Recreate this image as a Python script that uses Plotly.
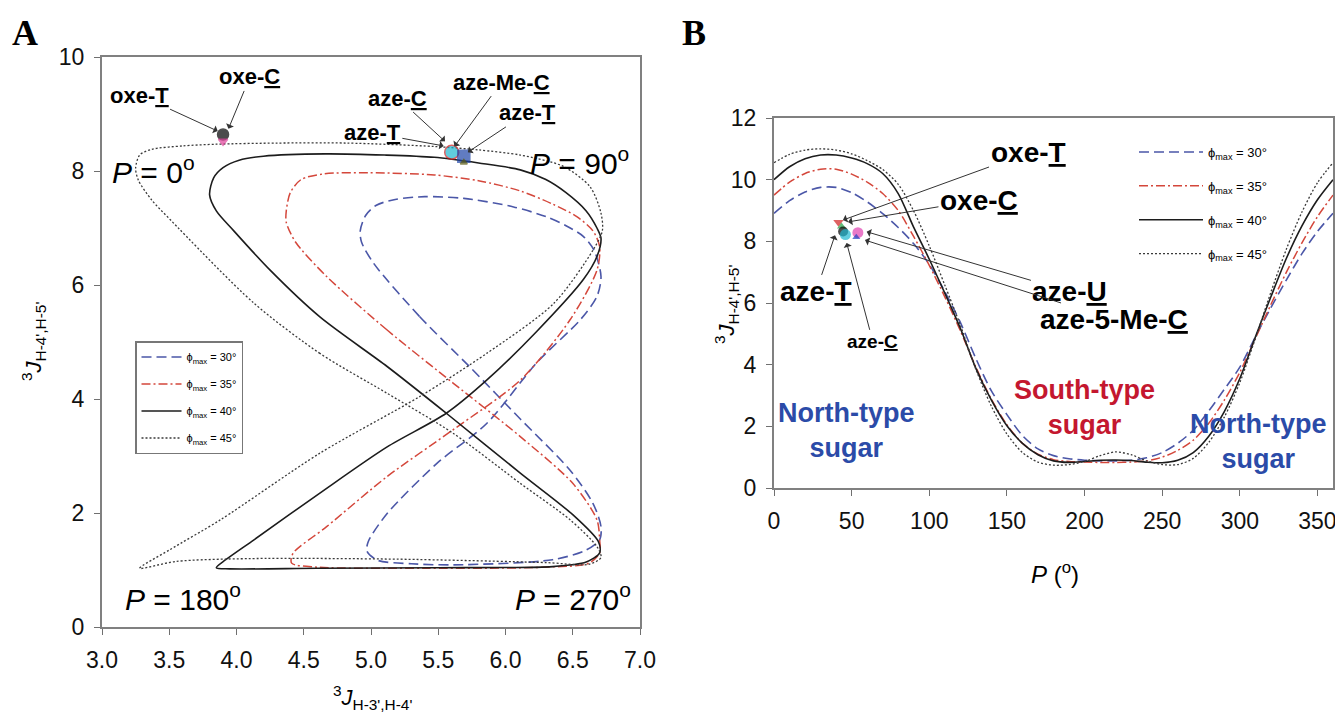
import plotly.graph_objects as go

# ---------------- Panel B data: 3J(H-4',H-5') vs P ----------------
P_DEG = [0, 10, 20, 30, 40, 50, 60, 70, 80, 90, 100, 110, 120, 130, 140, 150, 160, 170, 180,
         190, 200, 210, 220, 230, 240, 250, 260, 270, 280, 290, 300, 310, 320, 330, 340, 350, 360]
B_J_PHI30 = [8.91, 9.32, 9.60, 9.75, 9.75, 9.58, 9.28, 8.90, 8.45, 7.92, 7.25, 6.37, 5.37, 4.20,
             3.15, 2.38, 1.70, 1.27, 1.05, 0.95, 0.90, 0.88, 0.88, 0.90, 0.98, 1.15, 1.45, 1.87,
             2.50, 3.20, 3.92, 4.90, 5.85, 6.75, 7.60, 8.32, 8.91]
B_J_PHI35 = [9.50, 9.92, 10.20, 10.34, 10.34, 10.18, 9.92, 9.55, 9.00, 8.15, 7.22, 6.20, 5.10,
             3.92, 2.88, 2.05, 1.45, 1.10, 0.92, 0.86, 0.84, 0.83, 0.83, 0.84, 0.88, 1.00, 1.22,
             1.55, 2.10, 2.85, 3.75, 4.85, 5.95, 7.00, 7.95, 8.80, 9.50]
B_J_PHI40 = [10.00, 10.42, 10.68, 10.80, 10.80, 10.70, 10.52, 10.20, 9.55, 8.45, 7.42, 6.32, 5.18,
             3.88, 2.85, 2.02, 1.45, 1.08, 0.88, 0.83, 0.86, 0.90, 0.91, 0.89, 0.84, 0.82, 0.90,
             1.15, 1.68, 2.48, 3.55, 4.90, 6.20, 7.45, 8.50, 9.35, 10.00]
B_J_PHI45 = [10.55, 10.82, 10.96, 11.00, 10.96, 10.84, 10.62, 10.33, 9.85, 8.98, 7.85, 6.58, 5.28,
             3.85, 2.65, 1.75, 1.15, 0.84, 0.74, 0.76, 0.86, 1.05, 1.17, 1.08, 0.88, 0.76, 0.76,
             0.96, 1.48, 2.30, 3.42, 4.85, 6.35, 7.75, 8.95, 9.90, 10.55]

# ---------------- Panel A data: 3J(H-3',H-4') vs 3J(H-4',H-5') (closed loops) ----------------
A30_J34 = [5.74, 5.36, 5.02, 4.93, 4.92, 4.96, 5.04, 5.18, 5.40, 5.69, 6.06, 6.30, 6.45, 6.58,
           6.66, 6.71, 6.68, 6.56, 6.23, 5.86, 5.49, 5.12, 4.98, 4.97, 5.05, 5.30, 5.61, 6.35,
           6.60, 6.70, 6.71, 6.65, 6.48, 6.11, 5.74]
A30_J45 = [4.55, 5.45, 6.38, 6.75, 6.95, 7.22, 7.40, 7.50, 7.55, 7.52, 7.37, 7.20, 7.04, 6.85,
           6.60, 6.15, 5.80, 5.40, 4.63, 3.57, 2.87, 1.99, 1.50, 1.33, 1.17, 1.11, 1.09, 1.18,
           1.35, 1.53, 1.76, 2.17, 2.75, 3.65, 4.55]
A35_J34 = [5.61, 5.12, 4.67, 4.44, 4.37, 4.37, 4.40, 4.48, 4.65, 4.98, 5.47, 5.80, 6.11, 6.35,
           6.53, 6.65, 6.70, 6.68, 6.48, 6.11, 5.61, 5.12, 4.67, 4.42, 4.41, 4.60, 5.40, 6.30,
           6.62, 6.70, 6.70, 6.68, 6.50, 6.11, 5.61]
A35_J45 = [4.28, 5.21, 6.15, 6.75, 7.10, 7.30, 7.62, 7.85, 7.95, 7.97, 7.93, 7.83, 7.65, 7.42,
           7.20, 6.95, 6.67, 6.26, 5.39, 4.33, 3.46, 2.64, 1.76, 1.29, 1.12, 1.05, 1.03, 1.05,
           1.12, 1.30, 1.53, 1.88, 2.52, 3.34, 4.28]
A40_J34 = [5.56, 5.12, 4.62, 4.25, 3.98, 3.85, 3.80, 3.83, 3.90, 4.02, 4.20, 4.66, 5.10, 5.47,
           5.80, 6.11, 6.30, 6.45, 6.60, 6.68, 6.71, 6.68, 6.58, 6.23, 5.86, 5.56, 5.12, 4.62,
           4.13, 3.92, 3.85, 3.95, 4.60, 5.50, 6.35, 6.60, 6.70, 6.69, 6.50, 6.11, 5.56]
A40_J45 = [3.75, 4.57, 5.44, 6.26, 6.95, 7.30, 7.58, 7.88, 8.06, 8.19, 8.26, 8.30, 8.28, 8.24,
           8.14, 8.02, 7.85, 7.62, 7.30, 7.00, 6.82, 6.50, 6.10, 5.18, 4.33, 3.75, 3.16, 2.35,
           1.53, 1.18, 1.04, 1.02, 1.03, 1.04, 1.06, 1.14, 1.30, 1.50, 1.97, 2.70, 3.75]
A45_J34 = [5.12, 4.62, 4.13, 3.51, 3.37, 3.27, 3.25, 3.28, 3.37, 3.60, 3.85, 4.30, 4.82, 5.47,
           5.80, 6.11, 6.43, 6.63, 6.71, 6.72, 6.65, 6.36, 5.86, 5.36, 4.62, 3.88, 3.50, 3.28,
           3.55, 4.10, 5.20, 6.30, 6.62, 6.71, 6.68, 6.48, 6.11, 5.61, 5.12]
A45_J45 = [4.10, 4.80, 5.68, 7.14, 7.49, 7.84, 8.05, 8.28, 8.38, 8.44, 8.47, 8.49, 8.49, 8.43,
           8.37, 8.28, 8.08, 7.72, 7.26, 6.95, 6.61, 5.68, 4.80, 4.04, 3.05, 1.88, 1.35, 1.03,
           1.15, 1.20, 1.19, 1.13, 1.10, 1.22, 1.41, 1.88, 2.52, 3.40, 4.10]

PHI_MAX = ["30", "35", "40", "45"]

# experimental points
A_PT_J34 = [3.90, 3.90, 5.60, 5.69, 5.69]
A_PT_J45 = [8.64, 8.52, 8.33, 8.26, 8.15]
B_PT_P = [41.5, 43.5, 44.5, 46.0, 54.0, 53.0]
B_PT_J = [8.62, 8.48, 8.32, 8.22, 8.28, 8.13]

# labels with arrows
A_LABELS = ["oxe-<u>T</u>", "oxe-<u>C</u>", "aze-<u>C</u>", "aze-<u>T</u>", "aze-Me-<u>C</u>", "aze-<u>T</u>"]
A_LABEL_X = [3.28, 4.10, 5.20, 5.01, 5.97, 6.16]
A_LABEL_Y = [9.33, 9.65, 9.28, 8.67, 9.56, 9.02]
A_HEAD_X = [3.86, 3.94, 5.55, 5.54, 5.62, 5.72]
A_HEAD_Y = [8.70, 8.74, 8.52, 8.44, 8.43, 8.33]

B_LABELS = ["oxe-<u>T</u>", "oxe-<u>C</u>", "aze-<u>T</u>", "aze-<u>C</u>", "aze-<u>U</u>", "aze-5-Me-<u>C</u>"]
B_LABEL_X = [163.6, 132.0, 27.0, 63.7, 190.6, 219.0]
B_LABEL_Y = [10.87, 9.34, 6.36, 4.74, 6.36, 5.45]
B_HEAD_X = [44.4, 47.7, 39.3, 46.8, 59.7, 58.6]
B_HEAD_Y = [8.69, 8.63, 8.20, 7.95, 8.31, 8.04]
B_LABEL_SIZE = [28, 28, 28, 19, 28, 28]

A_TICKS_X = [3.0, 3.5, 4.0, 4.5, 5.0, 5.5, 6.0, 6.5, 7.0]
A_TICKS_Y = [0, 2, 4, 6, 8, 10]
B_TICKS_X = [0, 50, 100, 150, 200, 250, 300, 350]
B_TICKS_Y = [0, 2, 4, 6, 8, 10, 12]

# ---------------- layout geometry (page has an 8px body margin) ----------------
OFF = 8
W, H = 1335, 706
SANS = "Liberation Sans, Arial, sans-serif"


def px(xs):
    return (xs - OFF) / W


def py(ys):
    return 1 - (ys - OFF) / H


STYLES = {
    "30": dict(color="#4b57a8", dash="10px,5px", width=1.6),
    "35": dict(color="#d4473b", dash="9px,3px,2px,3px", width=1.5),
    "40": dict(color="#1c1c1c", dash="solid", width=1.6),
    "45": dict(color="#3a3a3a", dash="2px,2px", width=1.3),
}

fig = go.Figure()

A_DATA = {"30": (A30_J34, A30_J45), "35": (A35_J34, A35_J45),
          "40": (A40_J34, A40_J45), "45": (A45_J34, A45_J45)}
B_DATA = {"30": B_J_PHI30, "35": B_J_PHI35, "40": B_J_PHI40, "45": B_J_PHI45}

for phi in PHI_MAX:
    xs, ys = A_DATA[phi]
    fig.add_trace(go.Scatter(
        x=xs, y=ys, mode="lines", xaxis="x", yaxis="y",
        line=dict(shape="spline", smoothing=0.8, **STYLES[phi]),
        name="\u03d5<sub>max</sub> = %s\u00b0" % phi,
        legend="legend", legendgroup="a" + phi, showlegend=True))

for phi in PHI_MAX:
    fig.add_trace(go.Scatter(
        x=P_DEG, y=B_DATA[phi], mode="lines", xaxis="x2", yaxis="y2",
        line=dict(shape="spline", smoothing=0.8, **STYLES[phi]),
        name="\u03d5<sub>max</sub> = %s\u00b0" % phi,
        legend="legend2", legendgroup="b" + phi, showlegend=True))

# experimental markers
A_SYMBOLS = ["circle", "triangle-down", "circle", "square", "triangle-up"]
A_COLORS = ["#000000", "#e0409a", "#1fb7d0", "#1f45a8", "#5a5a10"]
A_LINECOL = ["#000000", "#e0409a", "#d02020", "#1f45a8", "#5a5a10"]
A_SIZES = [11, 8, 14, 12, 6]
fig.add_trace(go.Scatter(
    x=A_PT_J34, y=A_PT_J45, mode="markers", xaxis="x", yaxis="y", showlegend=False,
    marker=dict(symbol=A_SYMBOLS, color=A_COLORS, size=A_SIZES,
                line=dict(color=A_LINECOL, width=1.5))))

B_SYMBOLS = ["triangle-down", "triangle-up", "circle", "circle", "circle", "triangle-up"]
B_COLORS = ["#d02020", "#20a040", "#000000", "#1fb7d0", "#e040b0", "#2040c0"]
B_SIZES = [9, 8, 10, 11, 11, 7]
fig.add_trace(go.Scatter(
    x=B_PT_P, y=B_PT_J, mode="markers", xaxis="x2", yaxis="y2", showlegend=False,
    marker=dict(symbol=B_SYMBOLS, color=B_COLORS, size=B_SIZES, line=dict(width=0))))

annotations = []
for t, tx, ty, hx, hy in zip(A_LABELS, A_LABEL_X, A_LABEL_Y, A_HEAD_X, A_HEAD_Y):
    annotations.append(dict(
        text="<b>%s</b>" % t, x=hx, y=hy, ax=tx, ay=ty, xref="x", yref="y",
        axref="x", ayref="y", showarrow=True, arrowhead=1, arrowsize=1.4,
        arrowwidth=1, arrowcolor="#333333",
        font=dict(family=SANS, size=22, color="black")))
for t, tx, ty, hx, hy, fs in zip(B_LABELS, B_LABEL_X, B_LABEL_Y, B_HEAD_X, B_HEAD_Y, B_LABEL_SIZE):
    annotations.append(dict(
        text="<b>%s</b>" % t, x=hx, y=hy, ax=tx, ay=ty, xref="x2", yref="y2",
        axref="x2", ayref="y2", showarrow=True, arrowhead=1, arrowsize=1.4,
        arrowwidth=1, arrowcolor="#333333",
        font=dict(family=SANS, size=fs, color="black")))

# P labels in panel A
for t, x, y in [("0", 3.38, 8.02), ("90", 6.55, 8.17), ("180", 3.60, 0.53), ("270", 6.50, 0.53)]:
    annotations.append(dict(text="<i>P</i> = %s<sup>o</sup>" % t, x=x, y=y, xref="x", yref="y",
                            showarrow=False, font=dict(family=SANS, size=30, color="black")))

# sugar type labels in panel B
BLUE_T, RED_T = "#2b4ba8", "#c4172f"
annotations += [
    dict(text="<b>North-type<br>sugar</b>", x=47, y=1.88, xref="x2", yref="y2", showarrow=False,
         font=dict(family=SANS, size=27, color=BLUE_T)),
    dict(text="<b>South-type<br>sugar</b>", x=200, y=2.62, xref="x2", yref="y2", showarrow=False,
         font=dict(family=SANS, size=27, color=RED_T)),
    dict(text="<b>North-type<br>sugar</b>", x=312, y=1.50, xref="x2", yref="y2", showarrow=False,
         font=dict(family=SANS, size=27, color=BLUE_T)),
]

PAPER = dict(xref="paper", yref="paper", showarrow=False, xanchor="center", yanchor="middle")
annotations += [
    dict(text="<sup>3</sup><i>J</i><sub>H-3',H-4'</sub>", x=px(372), y=py(697),
         font=dict(family=SANS, size=22, color="black"), **PAPER),
    dict(text="<sup>3</sup><i>J</i><sub>H-4',H-5'</sub>", x=px(33), y=py(342), textangle=-90,
         font=dict(family=SANS, size=22, color="black"), **PAPER),
    dict(text="<i>P</i> (<sup>o</sup>)", x=px(1055), y=py(573),
         font=dict(family=SANS, size=24, color="black"), **PAPER),
    dict(text="<sup>3</sup><i>J</i><sub>H-4',H-5'</sub>", x=px(727), y=py(305), textangle=-90,
         font=dict(family=SANS, size=22, color="black"), **PAPER),
    dict(text="<b>A</b>", x=px(25), y=py(33),
         font=dict(family="Liberation Serif, Times New Roman, serif", size=36, color="black"), **PAPER),
    dict(text="<b>B</b>", x=px(694), y=py(33),
         font=dict(family="Liberation Serif, Times New Roman, serif", size=36, color="black"), **PAPER),
]

AX = dict(showgrid=False, zeroline=False, showline=True, linecolor="#808080", linewidth=2,
          mirror=True, ticks="outside", ticklen=6, tickwidth=1.3, tickcolor="#707070",
          tickfont=dict(family=SANS, size=23, color="#111111"), ticklabelstandoff=5,
          automargin=False)

fig.update_layout(
    width=W, height=H, autosize=False,
    margin=dict(l=0, r=0, t=0, b=0, pad=0),
    paper_bgcolor="white", plot_bgcolor="white",
    xaxis=dict(domain=[px(102), px(640)], range=[3, 7], tickvals=A_TICKS_X, tickformat=".1f",
               anchor="y", **AX),
    yaxis=dict(domain=[py(627), py(57)], range=[0, 10], tickvals=A_TICKS_Y,
               anchor="x", **AX),
    xaxis2=dict(domain=[px(774), px(1333)], range=[0, 360], tickvals=B_TICKS_X,
                anchor="y2", **AX),
    yaxis2=dict(domain=[py(488), py(118)], range=[0, 12], tickvals=B_TICKS_Y,
                anchor="x2", **AX),
    legend=dict(x=px(135), y=py(341), xanchor="left", yanchor="top",
                bordercolor="#777777", borderwidth=1.5, bgcolor="white",
                font=dict(family=SANS, size=11, color="black"), traceorder="grouped",
                tracegroupgap=8, itemwidth=40),
    legend2=dict(x=px(1134), y=py(137), xanchor="left", yanchor="top",
                 borderwidth=0, bgcolor="rgba(0,0,0,0)",
                 font=dict(family=SANS, size=13, color="black"), traceorder="grouped",
                 tracegroupgap=14, itemwidth=64),
    annotations=annotations,
)

fig.write_html("out.html")
